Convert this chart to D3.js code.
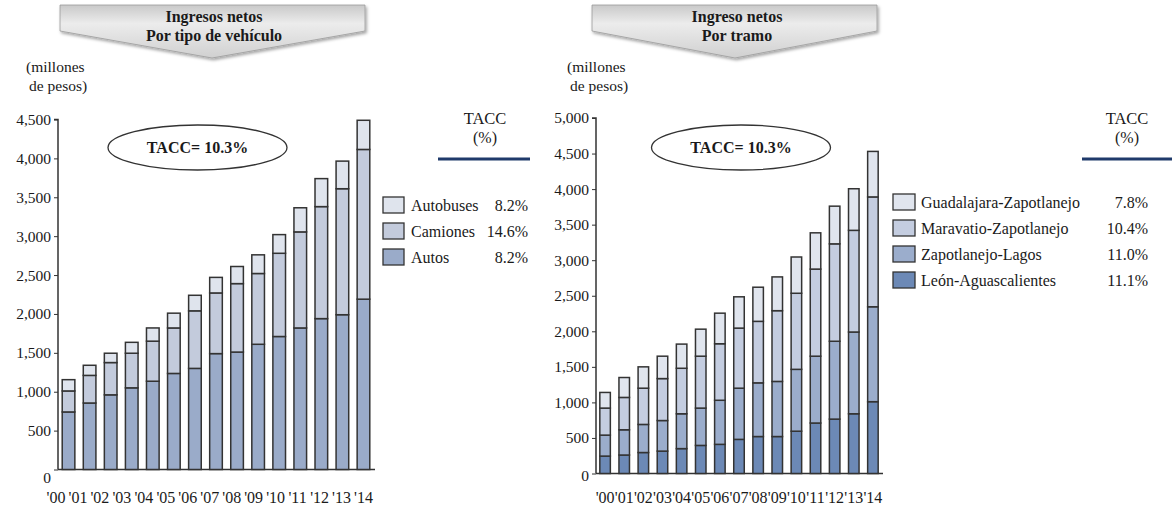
<!DOCTYPE html>
<html><head><meta charset="utf-8">
<script src="https://cdn.jsdelivr.net/npm/d3@7"></script>
<style>
body{margin:0;background:#fff;}
svg text{font-family:"Liberation Serif","DejaVu Serif",serif;fill:#1a1a1a;}
</style></head>
<body><svg id="c" width="1172" height="510"></svg>
<script>
const years = ["'00","'01","'02","'03","'04","'05","'06","'07","'08","'09","'10","'11","'12","'13","'14"];

// Left chart: Ingresos netos por tipo de vehículo (millones de pesos)
const leftSeriesNames = ["Autos","Camiones","Autobuses"];
const autos     = [740,855,960,1050,1135,1235,1300,1490,1510,1610,1710,1820,1940,1990,2190];
const camiones  = [270,355,415,445,515,585,740,780,880,910,1070,1235,1440,1620,1925];
const autobuses = [145,130,120,140,170,190,200,200,220,240,240,310,360,355,375];
const leftTacc  = ["8.2%","14.6%","8.2%"]; // Autobuses, Camiones, Autos (legend order)
const leftTicks = [0,500,1000,1500,2000,2500,3000,3500,4000,4500];

// Right chart: Ingreso netos por tramo
const rightSeriesNames = ["León-Aguascalientes","Zapotlanejo-Lagos","Maravatio-Zapotlanejo","Guadalajara-Zapotlanejo"];
const leon        = [245,260,295,315,350,395,410,480,520,520,595,710,765,840,1010];
const zapLagos    = [295,355,395,430,490,525,620,720,755,775,870,940,1095,1150,1335];
const maravatio   = [380,455,510,590,640,730,795,845,865,995,1070,1225,1370,1430,1545];
const guadalajara = [220,280,300,315,340,380,430,440,480,475,510,510,530,585,640];
const rightTacc   = ["7.8%","10.4%","11.0%","11.1%"]; // legend order (top to bottom)
const rightTicks  = [0,500,1000,1500,2000,2500,3000,3500,4000,4500,5000];

const FONT = "'Liberation Serif','DejaVu Serif',serif";
const svg = d3.select("#c").attr("font-family",FONT);
const defs = svg.append("defs");
const grad = defs.append("linearGradient").attr("id","bg").attr("x1",0).attr("y1",0).attr("x2",0).attr("y2",1);
grad.append("stop").attr("offset","0%").attr("stop-color","#c9c9c9");
grad.append("stop").attr("offset","35%").attr("stop-color","#ececec");
grad.append("stop").attr("offset","100%").attr("stop-color","#d0d0d0");
const f = defs.append("filter").attr("id","sh").attr("x","-10%").attr("y","-10%").attr("width","130%").attr("height","150%");
f.append("feDropShadow").attr("dx",1.5).attr("dy",2).attr("stdDeviation",1.6).attr("flood-color","#000").attr("flood-opacity",0.35);

function T(g){ return g.append("text").attr("font-family",FONT); }

function banner(x0,x1,apexX,lines){
  const g = svg.append("g");
  g.append("path")
   .attr("d",`M${x0},5 L${x1},5 L${x1},31 L${apexX},58 L${x0},31 Z`)
   .attr("fill","url(#bg)").attr("stroke","#9a9a9a").attr("stroke-width",0.8)
   .attr("filter","url(#sh)");
  lines.forEach((t,i)=>{
    T(g).attr("x",apexX+2).attr("y",22+i*18.5).attr("text-anchor","middle")
     .attr("font-size",16).attr("font-weight","bold").text(t);
  });
}

function chart(cfg){
  const y = d3.scaleLinear().domain([0,cfg.max]).range([cfg.y0,cfg.y1]);
  const x = d3.scaleBand().domain(years).range([cfg.xa,cfg.xb]).paddingInner(cfg.pi).paddingOuter(0.2);
  const xl = d3.scalePoint().domain(years).range(cfg.labelRange ||
              [x(years[0])+x.bandwidth()/2, x(years[years.length-1])+x.bandwidth()/2]);
  const data = years.map((yr,i)=>{const o={year:yr}; cfg.keys.forEach((k,j)=>o[k]=cfg.vals[j][i]); return o;});
  const stack = d3.stack().keys(cfg.keys)(data);
  const g = svg.append("g");
  // units label
  T(g).attr("x",cfg.ux).attr("y",72).attr("font-size",15.5).text("(millones");
  T(g).attr("x",cfg.ux+3).attr("y",91).attr("font-size",15.5).text("de pesos)");
  // y axis
  const ya = d3.axisLeft(y).tickValues(cfg.ticks).tickSize(4).tickFormat(d3.format(","));
  const ag = g.append("g").attr("transform",`translate(${cfg.xa},0)`).call(ya).attr("font-family",FONT);
  ag.select(".domain").attr("stroke","#333").attr("stroke-width",1.5).attr("d",`M-4,${cfg.y1}H0V${cfg.y0}`);
  ag.selectAll(".tick line").attr("stroke","#333");
  ag.selectAll(".tick text").attr("font-size",15.5).attr("fill","#222").attr("x",-7)
    .attr("font-family",FONT);
  ag.selectAll(".tick").filter(d=>d===0).select("text").attr("dy",cfg.zeroDy);
  // baseline
  g.append("line").attr("x1",cfg.xa).attr("x2",cfg.xb+1).attr("y1",y(0)).attr("y2",y(0))
    .attr("stroke","#333").attr("stroke-width",1.5);
  // bars
  stack.forEach((s,j)=>{
    g.selectAll(null).data(s).enter().append("rect")
     .attr("x",d=>x(d.data.year)).attr("width",x.bandwidth())
     .attr("y",d=>y(d[1])).attr("height",d=>y(d[0])-y(d[1]))
     .attr("fill",cfg.colors[j]).attr("stroke","#333").attr("stroke-width",1.5);
  });
  // x labels
  years.forEach(yr=>{
    T(g).attr("x",xl(yr)).attr("y",503).attr("text-anchor","middle")
     .attr("font-size",16).attr("fill","#222").text(yr);
  });
  // ellipse
  g.append("ellipse").attr("cx",cfg.ecx).attr("cy",147.5).attr("rx",89.5).attr("ry",22.5)
    .attr("fill","#fff").attr("stroke","#333").attr("stroke-width",1.3);
  T(g).attr("x",cfg.ecx).attr("y",153).attr("text-anchor","middle")
    .attr("font-size",16).attr("font-weight","bold").text("TACC= 10.3%");
  // TACC header
  T(g).attr("x",cfg.tx).attr("y",124).attr("text-anchor","middle").attr("font-size",16.5).text("TACC");
  T(g).attr("x",cfg.tx).attr("y",143).attr("text-anchor","middle").attr("font-size",16).text("(%)");
  g.append("line").attr("x1",cfg.lx1).attr("x2",cfg.lx2).attr("y1",159).attr("y2",159)
    .attr("stroke","#1f3a6b").attr("stroke-width",3);
  // legend
  cfg.legend.forEach((it,i)=>{
    const yy = cfg.ly + i*cfg.lstep;
    g.append("rect").attr("x",cfg.lbx).attr("y",yy).attr("width",cfg.lbw).attr("height",16)
     .attr("fill",it.color).attr("stroke","#333").attr("stroke-width",1.3);
    T(g).attr("x",cfg.ltx).attr("y",yy+14).attr("font-size",16).text(it.name);
    T(g).attr("x",cfg.lpx).attr("y",yy+14).attr("text-anchor","end").attr("font-size",16).text(it.pct);
  });
}

banner(60,365,212,["Ingresos netos","Por tipo de vehículo"]);
banner(592,877,735,["Ingreso netos","Por tramo"]);

const lc = ["#9aabc9","#c3cbdc","#dfe4ed"];
chart({
  max:4500, y0:469.5, y1:119.5, ticks:leftTicks, xa:58, xb:374, pi:0.4, zeroDy:"0.86em",
  labelRange:[56,363.5],
  keys:leftSeriesNames, vals:[autos,camiones,autobuses], colors:lc,
  ux:26, ecx:197.5, tx:485, lx1:438, lx2:530,
  lbx:383, lbw:21, ly:197, lstep:26, ltx:411, lpx:528,
  legend:[{name:"Autobuses",color:lc[2],pct:leftTacc[0]},
          {name:"Camiones",color:lc[1],pct:leftTacc[1]},
          {name:"Autos",color:lc[0],pct:leftTacc[2]}]
});

const rc = ["#6c89b6","#9badcc","#c4cde0","#e0e5ee"];
chart({
  max:5000, y0:473.5, y1:118, ticks:rightTicks, xa:596, xb:882, pi:0.45, zeroDy:"0.46em",
  keys:rightSeriesNames, vals:[leon,zapLagos,maravatio,guadalajara], colors:rc,
  ux:567, ecx:741, tx:1127, lx1:1082, lx2:1172,
  lbx:893, lbw:22, ly:194, lstep:26, ltx:921, lpx:1148,
  legend:[{name:"Guadalajara-Zapotlanejo",color:rc[3],pct:rightTacc[0]},
          {name:"Maravatio-Zapotlanejo",color:rc[2],pct:rightTacc[1]},
          {name:"Zapotlanejo-Lagos",color:rc[1],pct:rightTacc[2]},
          {name:"León-Aguascalientes",color:rc[0],pct:rightTacc[3]}]
});
</script></body></html>
